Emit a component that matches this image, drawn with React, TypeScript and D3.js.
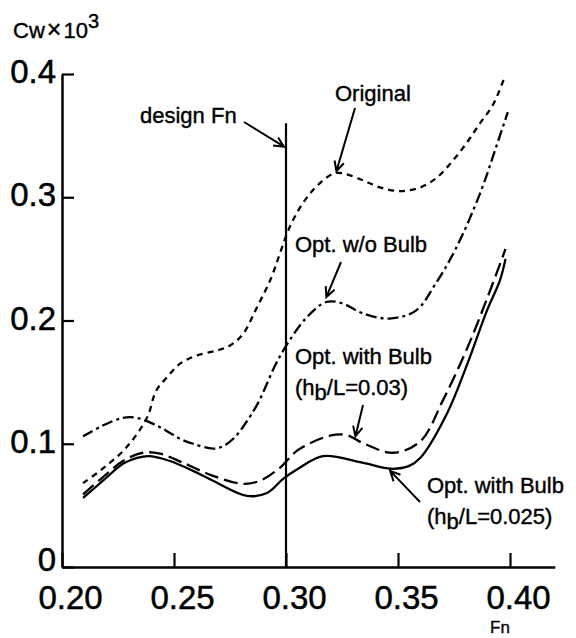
import React, { useEffect, useRef } from 'react';
import * as d3 from 'd3';

// Fn / Cw x 10^3
const original: [number, number][] = [
  [0.2094, 0.068], [0.2183, 0.080], [0.2272, 0.094], [0.2335, 0.108], [0.2384, 0.123],
  [0.242, 0.143], [0.2469, 0.154], [0.2527, 0.165], [0.260, 0.1715], [0.269, 0.1756],
  [0.275, 0.1797], [0.2808, 0.189], [0.287, 0.2106], [0.2929, 0.2325], [0.303, 0.281],
  [0.312, 0.3057], [0.321, 0.319], [0.325, 0.3195], [0.334, 0.314], [0.342, 0.308],
  [0.351, 0.305], [0.360, 0.308], [0.3674, 0.316], [0.3746, 0.330], [0.381, 0.345],
  [0.3866, 0.360], [0.3924, 0.375], [0.3975, 0.397],
];

const optNoBulb: [number, number][] = [
  [0.2094, 0.106], [0.218, 0.1146], [0.2272, 0.121], [0.2335, 0.121], [0.2424, 0.1146],
  [0.248, 0.109], [0.2527, 0.104], [0.2585, 0.100], [0.2674, 0.096], [0.2719, 0.098],
  [0.277, 0.105], [0.2817, 0.116], [0.2875, 0.133], [0.297, 0.170], [0.309, 0.202],
  [0.318, 0.215], [0.325, 0.214], [0.334, 0.206], [0.346, 0.2016], [0.358, 0.208],
  [0.3665, 0.229], [0.376, 0.259], [0.3866, 0.303], [0.3933, 0.338], [0.399, 0.369],
];

const optBulb030: [number, number][] = [
  [0.2094, 0.059], [0.2183, 0.073], [0.2272, 0.086], [0.236, 0.0927], [0.2437, 0.092],
  [0.254, 0.0846], [0.2674, 0.074], [0.2808, 0.0675], [0.2884, 0.070], [0.2973, 0.0805],
  [0.3054, 0.095], [0.3196, 0.1065], [0.3272, 0.107], [0.334, 0.1008], [0.3478, 0.0927],
  [0.360, 0.102], [0.370, 0.135], [0.381, 0.178], [0.390, 0.219], [0.398, 0.258],
];

const optBulb025: [number, number][] = [
  [0.2094, 0.056], [0.2183, 0.070], [0.2272, 0.0837], [0.2335, 0.0886], [0.2393, 0.090],
  [0.2482, 0.086], [0.2585, 0.078], [0.2674, 0.070], [0.2826, 0.0577], [0.2915, 0.060],
  [0.2987, 0.0715], [0.3054, 0.0797], [0.3165, 0.090], [0.334, 0.0846], [0.347, 0.0797],
  [0.355, 0.082], [0.360, 0.0886], [0.372, 0.125], [0.381, 0.165], [0.3897, 0.208],
  [0.3955, 0.2325], [0.398, 0.250],
];

const xTicks = [0.2, 0.25, 0.3, 0.35, 0.4];
const yTicks = [0, 0.1, 0.2, 0.3, 0.4];
const designFn = 0.3;
const designTop = 0.36;

const FONT = '"Liberation Sans", Arial, Helvetica, sans-serif';

const App = () => {
  const svgRef = useRef<SVGSVGElement>(null);

  useEffect(() => {
    const svg = d3.select(svgRef.current);
    svg.selectAll('*').remove();

    const x = d3.scaleLinear().domain([0.2, 0.42]).range([62, 554.8]);
    const y = d3.scaleLinear().domain([0, 0.4]).range([567, 74]);

    // x axis, ticks pointing up
    const gx = svg.append('g').attr('transform', `translate(0,${y(0)})`)
      .call(d3.axisBottom(x).tickValues(xTicks).tickSizeInner(-14).tickSizeOuter(0)
        .tickPadding(19).tickFormat(d3.format('.2f')));
    gx.select('.domain').attr('stroke-width', 2.5);
    gx.selectAll('.tick line').attr('stroke-width', 2.2);
    gx.selectAll('.tick text').attr('font-size', 33).attr('font-family', FONT)
      .attr('dx', 8).attr('fill', '#000').attr('stroke', '#000').attr('stroke-width', 0.5);

    // y axis, ticks pointing right
    const gy = svg.append('g').attr('transform', `translate(${x(0.2)},0)`)
      .call(d3.axisLeft(y).tickValues(yTicks).tickSizeInner(-12).tickSizeOuter(0)
        .tickPadding(6).tickFormat(d => (+d === 0 ? '0' : d3.format('.1f')(+d))));
    gy.select('.domain').attr('stroke-width', 2.5);
    gy.selectAll('.tick line').attr('stroke-width', 2.2);
    gy.selectAll('.tick text').attr('font-size', 33).attr('font-family', FONT)
      .attr('dy', (d: any) => (+d === 0 ? '0.1em' : '0.26em'))
      .attr('fill', '#000').attr('stroke', '#000').attr('stroke-width', 0.5);

    // design Fn line
    svg.append('line')
      .attr('x1', x(designFn)).attr('x2', x(designFn))
      .attr('y1', y(designTop)).attr('y2', y(0))
      .attr('stroke', '#000').attr('stroke-width', 2.2);

    const line = d3.line<[number, number]>()
      .x(d => x(d[0])).y(d => y(d[1]))
      .curve(d3.curveCatmullRom.alpha(0.5));

    const series = [
      { data: original, dash: '6,5' },
      { data: optNoBulb, dash: '11,4,3,4' },
      { data: optBulb030, dash: '14,6' },
      { data: optBulb025, dash: null },
    ];
    series.forEach(s => {
      svg.append('path')
        .attr('d', line(s.data))
        .attr('fill', 'none')
        .attr('stroke', '#000')
        .attr('stroke-width', 2.3)
        .attr('stroke-dasharray', s.dash);
    });

    // annotations: text at pixel spots, arrow tips at data points
    const arrow = (x0: number, y0: number, x1: number, y1: number) => {
      const a = Math.atan2(y1 - y0, x1 - x0);
      const h = 11, w = 0.45;
      const p = d3.path();
      p.moveTo(x0, y0); p.lineTo(x1, y1);
      p.moveTo(x1 - h * Math.cos(a - w), y1 - h * Math.sin(a - w));
      p.lineTo(x1, y1);
      p.lineTo(x1 - h * Math.cos(a + w), y1 - h * Math.sin(a + w));
      svg.append('path').attr('d', p.toString()).attr('fill', 'none')
        .attr('stroke', '#000').attr('stroke-width', 2);
    };

    const label = (tx: number, ty: number, lines: { t: string; sub?: string; rest?: string }[]) => {
      lines.forEach((l, i) => {
        const t = svg.append('text').attr('x', tx).attr('y', ty + i * 31)
          .attr('font-family', FONT).attr('font-size', 22).attr('fill', '#000')
          .attr('stroke', '#000').attr('stroke-width', 0.4);
        t.append('tspan').text(l.t);
        if (l.sub) {
          t.append('tspan').attr('dy', 5).text(l.sub);
          t.append('tspan').attr('dy', -5).text(l.rest ?? '');
        }
      });
    };

    label(140, 123, [{ t: 'design Fn' }]);
    arrow(244, 122, x(designFn) - 2, y(0.341));

    label(335, 101, [{ t: 'Original' }]);
    arrow(355, 108, x(0.3225), y(0.321));

    label(295, 252, [{ t: 'Opt. w/o Bulb' }]);
    arrow(341, 262, x(0.318), y(0.219));

    label(295, 364, [{ t: 'Opt. with Bulb' }, { t: '(h', sub: 'b', rest: '/L=0.03)' }]);
    arrow(363, 405, x(0.331), y(0.106));

    label(427, 493, [{ t: 'Opt. with Bulb' }, { t: '(h', sub: 'b', rest: '/L=0.025)' }]);
    arrow(420, 502, x(0.3465), y(0.078));

    // axis titles
    const yt = svg.append('text').attr('x', 13).attr('y', 38)
      .attr('font-family', FONT).attr('font-size', 22).attr('fill', '#000')
      .attr('stroke', '#000').attr('stroke-width', 0.4);
    yt.append('tspan').text('Cw');
    yt.append('tspan').attr('dx', 2).attr('font-size', 25).text('\u00d7');
    yt.append('tspan').attr('dx', 2).text('10');
    yt.append('tspan').attr('dy', -10).attr('font-size', 20).text('3');

    svg.append('text').attr('x', 500).attr('y', 633).attr('text-anchor', 'middle')
      .attr('font-family', FONT).attr('font-size', 17).attr('fill', '#000')
      .attr('stroke', '#000').attr('stroke-width', 0.3).text('Fn');
  }, []);

  return (
    <svg ref={svgRef} width={576} height={638}
      style={{ position: 'absolute', left: 0, top: 0, background: '#fff' }} />
  );
};

export default App;
